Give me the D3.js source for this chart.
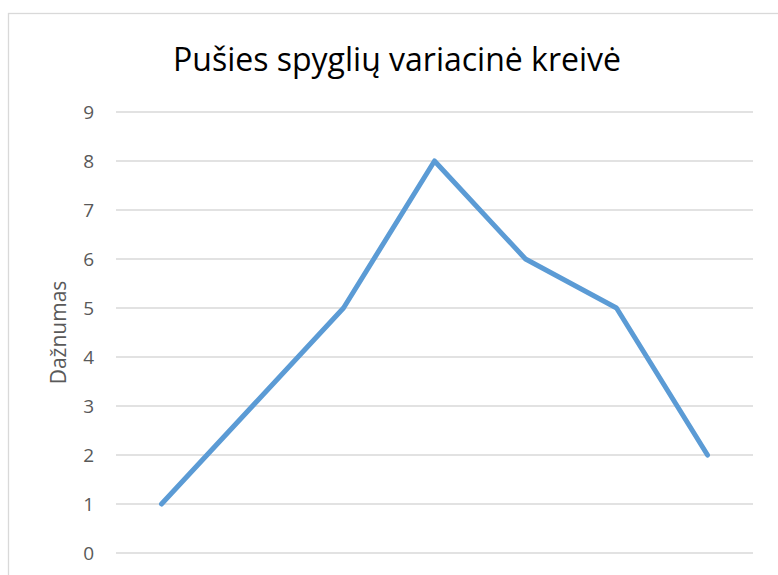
<!DOCTYPE html>
<html>
<head>
<meta charset="utf-8">
<script src="https://cdn.jsdelivr.net/npm/d3@7"></script>
<style>
  body { margin: 0; background: #fff; }
  svg { display: block; }
  svg text { font-family: 'Open Sans', 'Noto Sans', sans-serif; }
</style>
</head>
<body>
<svg id="chart" width="778" height="575"></svg>
<script>
// duomenys
const categories = ['1', '2', '3', '4', '5', '6', '7']
const frequency = [1, 3, 5, 8, 6, 5, 2]
const yTicks = [0, 1, 2, 3, 4, 5, 6, 7, 8, 9]
const title = 'Pušies spyglių variacinė kreivė'
const yTitle = 'Dažnumas'

let margin = {top: 112, right: 25, bottom: 22, left: 116}
let svg = d3.select('#chart')

// rėmelis
svg.append('rect')
  .attr('x', 8.5).attr('y', 13.5)
  .attr('width', 800).attr('height', 600)
  .attr('fill', 'none')
  .attr('stroke', '#d9d9d9')
  .attr('stroke-width', 1.3)

let g = svg.append('g')
  .attr('transform', 'translate(' + margin.left + ',' + margin.top + ')')

let x = d3.scalePoint()
  .domain(categories)
  .range([0, 637])
  .padding(0.5)
let y = d3.scaleLinear()
  .domain([0, 9])
  .range([441, 0])

// ašis y
let yAxis = d3.axisLeft(y).tickValues(yTicks).tickSize(0).tickPadding(22)
let gY = g.append('g').call(yAxis)
gY.attr('font-family', null).attr('font-size', null)
gY.select('.domain').remove()
gY.selectAll('text')
  .attr('fill', '#595959')
  .style('font-size', '19px')

// tinklelis
g.append('g')
  .selectAll('line')
  .data(yTicks)
  .enter()
  .append('line')
  .attr('x1', 0)
  .attr('x2', 637)
  .attr('y1', d => y(d))
  .attr('y2', d => y(d))
  .attr('stroke', '#d9d9d9')
  .attr('stroke-width', 1.3)

// linija
let line = d3.line()
  .x((d, i) => x(categories[i]))
  .y(d => y(d))

g.append('path')
  .datum(frequency)
  .attr('d', line)
  .attr('fill', 'none')
  .attr('stroke', '#5b9bd5')
  .attr('stroke-width', 5)
  .attr('stroke-linejoin', 'round')
  .attr('stroke-linecap', 'round')

// pavadinimas
svg.append('text')
  .attr('x', 397)
  .attr('y', 71)
  .attr('text-anchor', 'middle')
  .attr('fill', '#000')
  .style('font-size', '32px')
  .text(title)

svg.append('text')
  .attr('transform', 'translate(66,' + (margin.top + y(4.5)) + ') rotate(-90)')
  .attr('text-anchor', 'middle')
  .attr('fill', '#595959')
  .style('font-size', '21px')
  .text(yTitle)
</script>
</body>
</html>
